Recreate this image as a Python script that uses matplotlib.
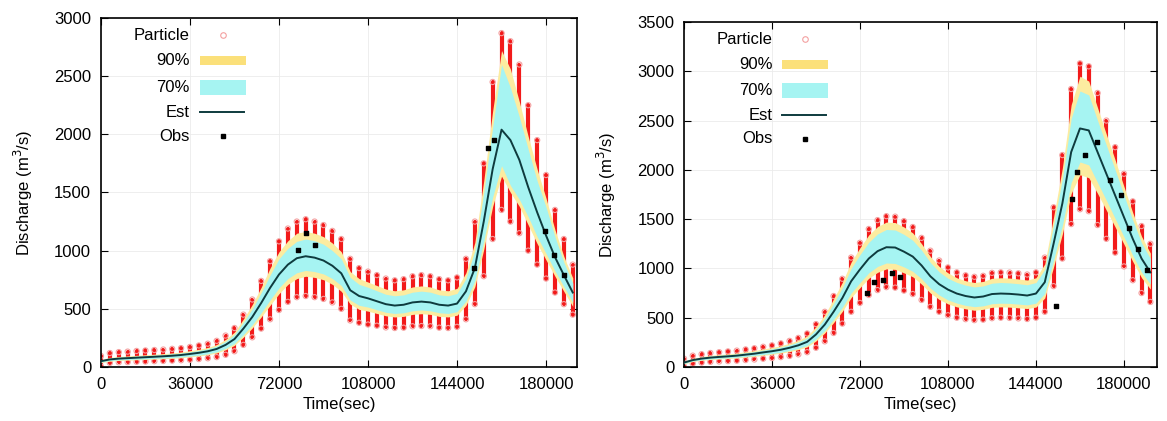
import numpy as np
import matplotlib.pyplot as plt
from matplotlib.patches import Rectangle

plt.rcParams['font.family'] = ['Liberation Sans', 'DejaVu Sans']
plt.rcParams['font.size'] = 12

# hourly time steps (sec)
hours = np.arange(54)
t = hours * 3600

# ---- left panel ----
est_L = [50, 65, 72, 76, 80, 84, 88, 92, 97, 103, 112, 122, 135, 155, 190, 240, 330, 430, 550, 680,
         795, 880, 935, 952, 940, 915, 870, 805, 660, 610, 590, 565, 540, 528, 535, 555, 562, 555, 535, 528,
         545, 650, 850, 1250, 1700, 2040, 1950, 1780, 1545, 1330, 1130, 945, 790, 640]
lo90_L = [38, 50, 56, 59, 62, 65, 68, 71, 75, 80, 87, 95, 105, 120, 148, 186, 256, 335, 430, 530,
          630, 710, 760, 780, 770, 750, 710, 650, 540, 495, 480, 460, 440, 430, 435, 452, 458, 452, 435, 430,
          445, 530, 690, 1010, 1380, 1640, 1500, 1380, 1220, 1060, 920, 780, 650, 520]
lo70_L = [42, 55, 61, 64, 67, 70, 74, 77, 81, 86, 94, 102, 113, 130, 160, 202, 278, 362, 465, 575,
          680, 760, 810, 830, 820, 800, 760, 700, 575, 530, 515, 492, 470, 460, 466, 483, 490, 483, 466, 460,
          475, 565, 740, 1080, 1460, 1730, 1560, 1440, 1290, 1120, 975, 825, 690, 555]
hi70_L = [58, 76, 84, 88, 93, 98, 102, 107, 113, 120, 130, 142, 157, 180, 220, 280, 385, 500, 640, 790,
          930, 1020, 1080, 1100, 1085, 1055, 1000, 930, 770, 710, 685, 655, 625, 612, 620, 643, 652, 643, 620, 612,
          632, 760, 1000, 1500, 2060, 2600, 2400, 2150, 1870, 1600, 1375, 1120, 900, 720]
hi90_L = [62, 82, 90, 95, 100, 105, 110, 115, 121, 129, 140, 152, 168, 193, 237, 300, 412, 537, 685, 850,
          990, 1085, 1150, 1165, 1150, 1120, 1065, 990, 820, 760, 730, 700, 670, 655, 663, 688, 697, 688, 663, 655,
          676, 810, 1070, 1600, 2200, 2720, 2560, 2280, 1980, 1700, 1450, 1180, 950, 765]
plo_L = [5, 35, 40, 42, 45, 47, 50, 52, 55, 58, 62, 68, 75, 85, 105, 135, 190, 255, 330, 410,
         490, 560, 600, 610, 600, 585, 555, 500, 400, 380, 365, 355, 340, 335, 338, 350, 352, 350, 338, 335,
         345, 410, 540, 780, 1100, 1350, 1250, 1150, 1000, 880, 760, 640, 540, 450]
phi_L = [95, 120, 128, 132, 138, 142, 146, 150, 156, 162, 172, 185, 200, 225, 270, 335, 450, 580, 740, 910,
         1080, 1190, 1250, 1270, 1250, 1220, 1170, 1100, 930, 850, 820, 790, 760, 745, 755, 780, 790, 780, 755, 745,
         770, 930, 1250, 1750, 2450, 2870, 2800, 2600, 2250, 1950, 1650, 1350, 1100, 880]
obs_t_L = [79700, 82900, 86600, 150900, 156600, 159000, 179600, 183200, 187300]
obs_q_L = [1003, 1150, 1046, 847, 1885, 1954, 1167, 960, 787]

# ---- right panel ----
est_R = [45, 70, 85, 95, 102, 108, 115, 125, 135, 148, 160, 175, 195, 220, 255, 330, 430, 560, 700, 870,
         990, 1100, 1175, 1215, 1212, 1170, 1120, 1030, 920, 840, 785, 745, 720, 705, 715, 740, 745, 742, 735, 725,
         745, 860, 1250, 1660, 2180, 2420, 2400, 2180, 1960, 1740, 1520, 1300, 1100, 960]
lo90_R = [32, 55, 68, 76, 82, 87, 92, 100, 108, 118, 128, 140, 156, 176, 204, 264, 345, 450, 565, 705,
          805, 900, 960, 995, 990, 955, 915, 840, 750, 685, 640, 610, 590, 575, 585, 605, 610, 607, 600, 593,
          608, 700, 1015, 1350, 1760, 1950, 1920, 1760, 1590, 1420, 1245, 1070, 905, 790]
lo70_R = [36, 60, 73, 82, 88, 93, 99, 107, 116, 127, 137, 150, 167, 189, 219, 284, 370, 482, 605, 750,
          855, 955, 1020, 1055, 1050, 1015, 970, 895, 800, 730, 680, 648, 625, 612, 620, 642, 647, 645, 638, 630,
          647, 745, 1080, 1435, 1870, 2080, 2050, 1870, 1690, 1505, 1320, 1130, 960, 840]
hi70_R = [55, 82, 98, 110, 118, 125, 133, 145, 156, 171, 185, 202, 225, 254, 295, 380, 495, 645, 805, 1000,
          1140, 1265, 1350, 1395, 1390, 1345, 1285, 1185, 1060, 965, 900, 858, 830, 812, 822, 850, 857, 853, 845, 834,
          857, 990, 1440, 1910, 2520, 2800, 2760, 2500, 2250, 2000, 1745, 1490, 1260, 1100]
hi90_R = [60, 88, 105, 117, 126, 133, 142, 155, 167, 183, 198, 216, 241, 272, 315, 408, 530, 690, 860, 1065,
          1210, 1340, 1425, 1470, 1465, 1420, 1360, 1250, 1120, 1020, 955, 905, 875, 857, 868, 900, 905, 902, 893, 882,
          905, 1045, 1520, 2020, 2660, 2950, 2900, 2630, 2360, 2100, 1830, 1565, 1325, 1155]
plo_R = [5, 35, 45, 52, 56, 60, 64, 70, 76, 84, 90, 100, 112, 128, 150, 195, 260, 345, 440, 560,
         650, 730, 780, 810, 805, 775, 740, 680, 610, 560, 525, 500, 485, 475, 480, 495, 500, 498, 493, 487,
         500, 560, 820, 1100, 1450, 1600, 1580, 1440, 1300, 1160, 1020, 880, 750, 660]
phi_R = [85, 115, 130, 142, 150, 158, 166, 178, 190, 205, 220, 240, 265, 295, 340, 435, 560, 720, 895, 1110,
         1260, 1400, 1490, 1530, 1525, 1480, 1420, 1310, 1180, 1080, 1010, 960, 930, 915, 925, 955, 960, 958, 950, 938,
         960, 1110, 1620, 2150, 2820, 3080, 3050, 2780, 2500, 2230, 1960, 1680, 1430, 1250]
obs_t_R = [75000, 77900, 81500, 85100, 88300, 152200, 158700, 160700, 164000, 168900,
           174200, 178700, 182000, 185700, 189400]
obs_q_R = [753, 865, 885, 956, 916, 620, 1709, 1974, 2147, 2279, 1892, 1740, 1414, 1200, 987]

labels = ['Particle', '90%', '70%', 'Est', 'Obs']

C_RED = '#f21a1a'
C_PINK = '#f4a0a0'
C_90 = '#fcecA0'
C_70 = '#a6f4f2'
C_EST = '#0e3b3e'


def draw_panel(ax, est, lo90, lo70, hi70, hi90, plo, phi, obs_t, obs_q, xmax, ymax):
    # particles: red stacks behind the bands
    lc = ax.vlines(t, plo, phi, color=C_RED, lw=3.0, zorder=1)
    lc.set_capstyle('round')
    ax.scatter(t, phi, s=14, facecolors='none', edgecolors=C_PINK, lw=0.8, zorder=1)
    ax.scatter(t, plo, s=14, facecolors='none', edgecolors=C_PINK, lw=0.8, zorder=1)
    ax.fill_between(t, lo90, hi90, color=C_90, lw=0, zorder=2)
    ax.fill_between(t, lo70, hi70, color=C_70, lw=0, zorder=3)
    ax.plot(t, est, color=C_EST, lw=1.4, zorder=4)
    ax.scatter(obs_t, obs_q, s=10, color='black', marker='s', zorder=5)

    ax.set_xlim(0, xmax)
    ax.set_ylim(0, ymax)
    ax.set_xticks(np.arange(0, 180001, 36000))
    ax.set_yticks(np.arange(0, ymax + 1, 500))
    ax.tick_params(direction='in', top=True, right=True, length=5, width=0.8, pad=7)
    ax.grid(True, color='#ebebeb', lw=0.6, zorder=0)
    ax.set_axisbelow(True)
    for s in ax.spines.values():
        s.set_linewidth(1.2)
    ax.set_xlabel('Time(sec)', labelpad=4)
    ax.set_ylabel('Discharge (m$^3$/s)', labelpad=14)

    # gnuplot style key (text right aligned, sample to the right)
    ys = [0.950, 0.877, 0.801, 0.730, 0.661]
    xt, xa, xb, xm = 0.187, 0.208, 0.305, 0.256
    tr = ax.transAxes
    for y, lab in zip(ys, labels):
        ax.text(xt, y, lab, transform=tr, ha='right', va='center', zorder=6)
    ax.plot([xm], [ys[0]], 'o', ms=4, mfc='none', mec=C_PINK, mew=0.8, transform=tr, zorder=6)
    ax.add_patch(Rectangle((xa, ys[1] - 0.013), xb - xa, 0.026, transform=tr, color='#fbe07a', lw=0, zorder=6))
    ax.add_patch(Rectangle((xa, ys[2] - 0.022), xb - xa, 0.044, transform=tr, color=C_70, lw=0, zorder=6))
    ax.plot([xa, xb - 0.005], [ys[3], ys[3]], color=C_EST, lw=1.4, transform=tr, zorder=6)
    ax.plot([xm], [ys[4]], 's', ms=3.5, color='black', transform=tr, zorder=6)


fig = plt.figure(figsize=(11.67, 4.21), dpi=100)
ax1 = fig.add_axes([0.0865, 0.1283, 0.4079, 0.829])
ax2 = fig.add_axes([0.5861, 0.1283, 0.4053, 0.8195])

draw_panel(ax1, est_L, lo90_L, lo70_L, hi70_L, hi90_L, plo_L, phi_L, obs_t_L, obs_q_L, 192500, 3000)
draw_panel(ax2, est_R, lo90_R, lo70_R, hi70_R, hi90_R, plo_R, phi_R, obs_t_R, obs_q_R, 193500, 3500)

fig.savefig('out.png', dpi=100, facecolor='white')
